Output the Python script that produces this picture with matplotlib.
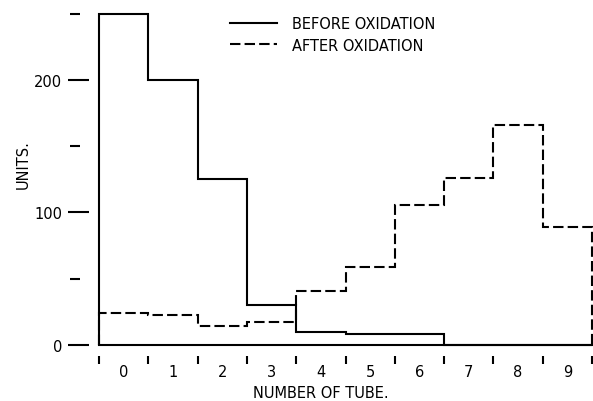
import matplotlib
matplotlib.use("Agg")
import matplotlib.pyplot as plt
from matplotlib.lines import Line2D
import numpy as np

# Data
tubes = ["0", "1", "2", "3", "4", "5", "6", "7", "8", "9"]
before_oxidation = [250, 200, 125, 30, 10, 8, 8, 0, 0, 0]
after_oxidation = [24, 23, 14, 17, 41, 59, 106, 126, 166, 89]
ytick_major = [0, 100, 200]
ytick_minor = [50, 150, 250]

FS = 10.5
LW = 1.5
W, H = 593, 402

fig = plt.figure(figsize=(W / 100, H / 100), dpi=100)
x0, x1 = 99, 592
y0, ytop = 346, 14.7
ax = fig.add_axes([x0 / W, 1 - y0 / H, (x1 - x0) / W, (y0 - ytop) / H])
ax_w = x1 - x0
ax_h = y0 - ytop

edges = np.arange(len(tubes) + 1)
ax.stairs(before_oxidation, edges, baseline=0, color="black", lw=LW,
          clip_on=False)
ax.stairs(after_oxidation, edges, baseline=0, color="black", lw=LW,
          linestyle=(0, (5, 2)), clip_on=False)

ax.set_xlim(0, len(tubes))
ax.set_ylim(0, 250)

for s in ["top", "right"]:
    ax.spines[s].set_visible(False)
ax.spines["bottom"].set_linewidth(LW)
ax.spines["left"].set_position(("outward", 10 * 0.72))
ax.spines["left"].set_visible(False)

ax.set_xticks([])
ax.set_yticks(ytick_major)
ax.tick_params(axis="y", which="major", length=21 * 0.72, width=LW,
               pad=6 * 0.72, labelsize=FS)

# minor y ticks
sy = ax.secondary_yaxis((80 - x0) / ax_w)
sy.spines["left"].set_visible(False)
sy.set_yticks(ytick_minor)
sy.set_yticklabels([])
sy.tick_params(axis="y", which="major", length=10 * 0.72, width=LW)

# x ticks (edges) and labels (centers)
sx = ax.secondary_xaxis((y0 - 357) / ax_h)
sx.spines["bottom"].set_visible(False)
sx.set_xticks(edges)
sx.set_xticklabels([])
sx.tick_params(axis="x", which="major", length=8 * 0.72, width=LW)
sx.set_xticks(edges[:-1] + 0.5, labels=tubes, minor=True)
sx.tick_params(axis="x", which="minor", length=0, pad=8 * 0.72, labelsize=FS)

ax.set_xlabel("NUMBER OF TUBE.", fontsize=FS, va="center")
ax.xaxis.set_label_coords((321 - x0) / ax_w, (y0 - 394) / ax_h)
ax.set_ylabel("UNITS.", fontsize=FS, va="center")
ax.yaxis.set_label_coords((23 - x0) / ax_w, (y0 - 165) / ax_h)

handles = [Line2D([], [], color="black", lw=LW),
           Line2D([], [], color="black", lw=LW, linestyle=(0, (5, 2)))]
fig.legend(handles, ["BEFORE OXIDATION", "AFTER OXIDATION"],
           loc="upper left", bbox_to_anchor=(230 / W, 1 - 17 / H),
           frameon=False, fontsize=FS, handlelength=47 / (FS / 0.72),
           handletextpad=15 / (FS / 0.72), borderpad=0, borderaxespad=0,
           labelspacing=0.45)

fig.savefig("out.png", dpi=100)
